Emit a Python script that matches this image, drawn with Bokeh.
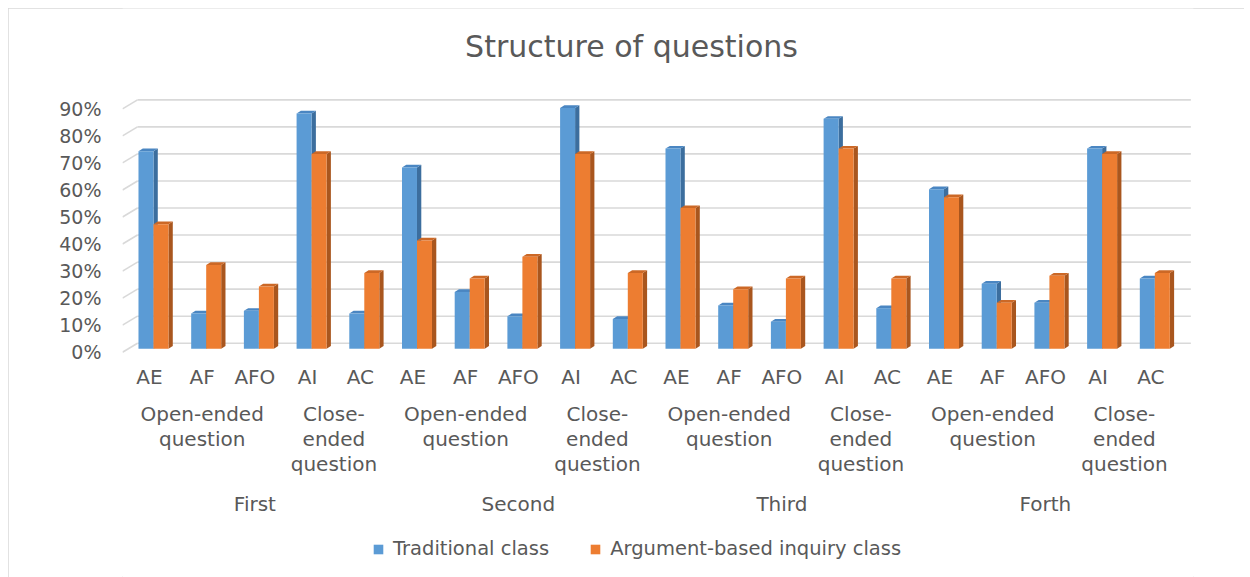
import numpy as np
from bokeh.plotting import figure
from bokeh.models import Range1d, FixedTicker, NumeralTickFormatter, Legend, LegendItem
from bokeh.core.properties import value
from bokeh.embed import file_html
from bokeh.resources import INLINE

# ---------------- data ----------------
title_text = "Structure of questions"
sessions = ["First", "Second", "Third", "Forth"]
question_groups = ["Open-ended\nquestion", "Close-\nended\nquestion"]
group_sizes = [3, 2]
sub_categories = ["AE", "AF", "AFO", "AI", "AC"]
series_names = ["Traditional class", "Argument-based inquiry class"]
traditional = [0.73, 0.13, 0.14, 0.87, 0.13,
               0.67, 0.21, 0.12, 0.89, 0.11,
               0.74, 0.16, 0.10, 0.85, 0.15,
               0.59, 0.24, 0.17, 0.74, 0.26]
argument = [0.46, 0.31, 0.23, 0.72, 0.28,
            0.40, 0.26, 0.34, 0.72, 0.28,
            0.52, 0.22, 0.26, 0.74, 0.26,
            0.56, 0.17, 0.27, 0.72, 0.28]
y_ticks = [0.0, 0.1, 0.2, 0.3, 0.4, 0.5, 0.6, 0.7, 0.8, 0.9]

# ---------------- style / layout ----------------
FONT = "DejaVu Sans"
TXT = "#595959"
GRID = "#D9D9D9"
front_colors = ["#5B9BD5", "#ED7D31"]
side_colors = ["#3C6E9E", "#A9561E"]
top_colors = ["#4A86C2", "#CC6826"]

PX_X = 52.7    # px per category
PX_Y = 270.4   # px per 100%
X0, X1 = -0.512, 19.81
Y0, Y1 = -0.833, 1.271

bw = 15 / PX_X                      # bar width
bdx, bdy = 4 / PX_X, 3.5 / PX_Y     # bar depth offset
sdx, sdy = 4.3 / PX_X, 2.7 / PX_Y   # bar side / top depth
gdx, gdy = 15 / PX_X, 9 / PX_Y      # back wall offset

p = figure(width=1236, height=569, output_backend="svg", toolbar_location=None,
           x_range=Range1d(X0, X1), y_range=Range1d(Y0, Y1),
           x_axis_location=None, min_border_left=114, min_border_right=51,
           min_border_top=0, min_border_bottom=0)
p.margin = (8, 0, 0, 8)
p.outline_line_color = None
p.xgrid.visible = False
p.ygrid.visible = False
p.styles = {"outline": "1px solid #D9D9D9", "outline-offset": "-1px"}

# y axis (front labels)
ax = p.yaxis[0]
ax.ticker = FixedTicker(ticks=y_ticks)
ax.formatter = NumeralTickFormatter(format="0%")
ax.axis_line_color = None
ax.major_tick_line_color = None
ax.minor_tick_line_color = None
ax.major_tick_out = 0
ax.major_label_standoff = 21
ax.major_label_text_font = FONT
ax.major_label_text_font_size = "19px"
ax.major_label_text_color = TXT

# back wall gridlines + floor diagonals
yt = np.array(y_ticks)
p.segment(x0=[X0 + gdx] * len(yt), y0=yt + gdy, x1=[X1 - 0.05] * len(yt), y1=yt + gdy,
          line_color=GRID, line_width=1.6)
p.segment(x0=[X0] * len(yt), y0=yt, x1=[X0 + gdx] * len(yt), y1=yt + gdy,
          line_color=GRID, line_width=1.6)

# bars (3D look)
n = len(traditional)
xs = np.arange(n)
legend_items = []
for s, vals in enumerate([traditional, argument]):
    v = np.array(vals)
    left = xs + bdx - bw + s * bw
    right = left + bw
    bot = np.full(n, bdy)
    top = v + bdy
    side_x = [[r, r + sdx, r + sdx, r] for r in right]
    side_y = [[b, b + sdy, t + sdy, t] for b, t in zip(bot, top)]
    p.patches(side_x, side_y, fill_color=side_colors[s], line_color=None)
    top_x = [[l, l + sdx, r + sdx, r] for l, r in zip(left, right)]
    top_y = [[t, t + sdy, t + sdy, t] for t in top]
    p.patches(top_x, top_y, fill_color=top_colors[s], line_color=None)
    r = p.quad(left=left, right=right, bottom=bot, top=top,
               fill_color=front_colors[s], line_color=None)
    legend_items.append(LegendItem(label=series_names[s], renderers=[r]))

# category labels
LBL = "20px"
sub_labels = [c for _ in sessions for c in sub_categories]
p.text(x=xs, y=[(351.7 - 376.7) / PX_Y] * n, text=sub_labels,
       text_font=value(FONT), text_font_size=LBL, text_color=TXT,
       text_align="center", text_baseline="middle")

gx, gy, gt = [], [], []
line_h = 25 / PX_Y
y_row2 = (351.7 - 413) / PX_Y
per = len(sub_categories)
for k, _ in enumerate(sessions):
    start = k * per
    for g, size in zip(question_groups, group_sizes):
        cx = start + (size - 1) / 2
        for j, line in enumerate(g.split("\n")):
            gx.append(cx)
            gy.append(y_row2 - j * line_h)
            gt.append(line)
        start += size
p.text(x=gx, y=gy, text=gt, text_font=value(FONT), text_font_size=LBL,
       text_color=TXT, text_align="center", text_baseline="middle")

sx = [k * per + (per - 1) / 2 for k in range(len(sessions))]
p.text(x=sx, y=[(351.7 - 503) / PX_Y] * len(sessions), text=sessions,
       text_font=value(FONT), text_font_size=LBL, text_color=TXT,
       text_align="center", text_baseline="middle")

# title
p.text(x=[(631 - 149) / PX_X], y=[(351.7 - 46) / PX_Y], text=[title_text],
       text_font=value(FONT), text_font_size="30px", text_color=TXT,
       text_align="center", text_baseline="middle")

legend = Legend(items=legend_items, orientation="horizontal", location=(250, 17),
                padding=0, margin=0, spacing=40, label_standoff=9,
                glyph_width=12, glyph_height=12, border_line_color=None,
                background_fill_alpha=0, label_text_font=FONT,
                label_text_font_size="19.5px", label_text_color=TXT)
p.add_layout(legend)

open("out.html", "w").write(file_html(p, INLINE))
